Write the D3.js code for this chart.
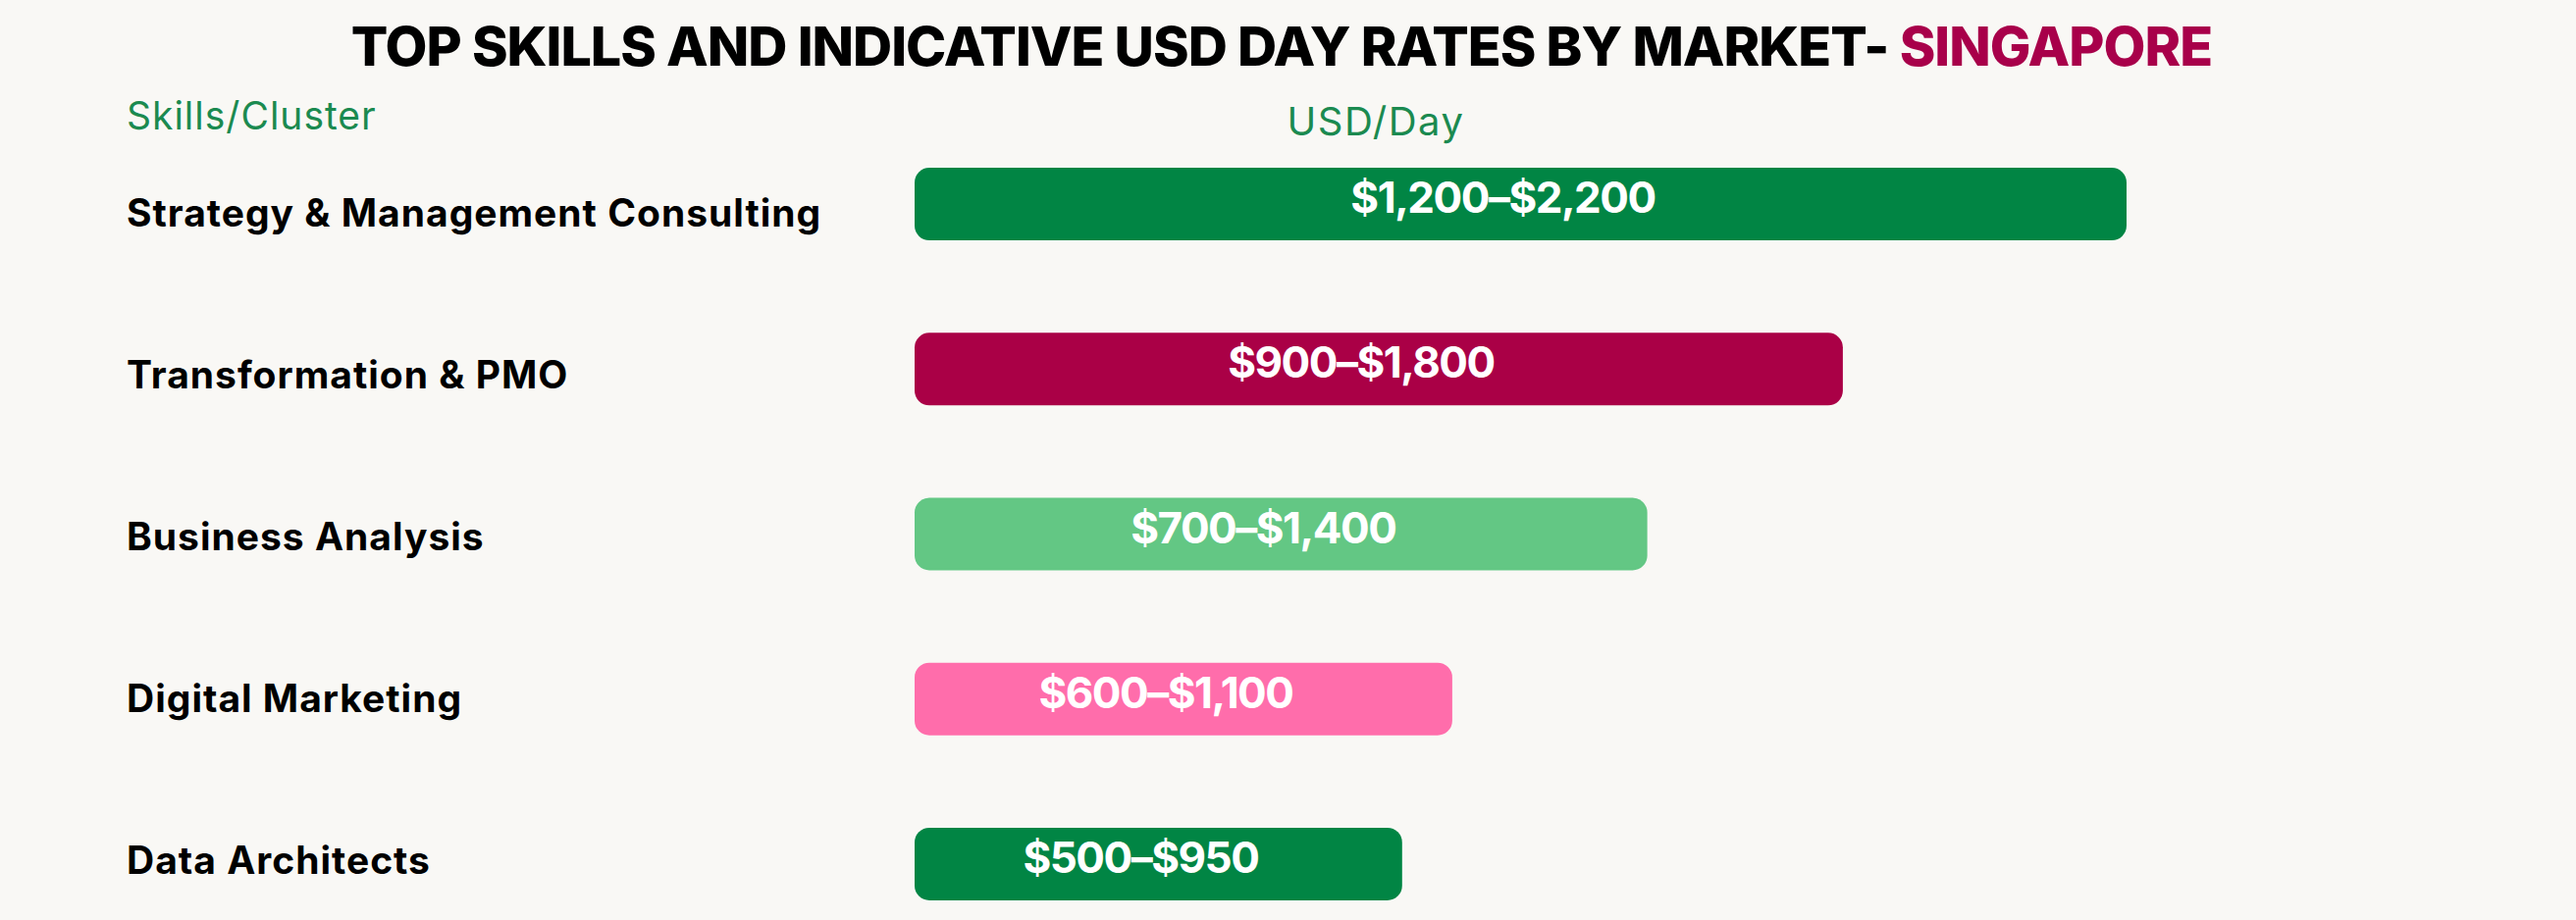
<!DOCTYPE html>
<html>
<head>
<meta charset="utf-8">
<script src="https://cdn.jsdelivr.net/npm/d3@7"></script>
<style>
  html, body { margin: 0; padding: 0; background: #f9f8f5; }
  svg { display: block; }
</style>
</head>
<body>
<div id="chart"></div>
<script>
// skills, top to bottom
var skills = ["Strategy & Management Consulting", "Transformation & PMO", "Business Analysis", "Digital Marketing", "Data Architects"];
// indicative day rate range, USD
var rateLow = [1200, 900, 700, 600, 500];
var rateHigh = [2200, 1800, 1400, 1100, 950];
// drawn bar length, in USD units of the top bar
var barLength = [2200, 1685, 1330, 976, 885];
var barColors = ["#018544", "#aa0046", "#63c784", "#ff6dab", "#018544"];

var width = 2625, height = 938;

var svg = d3.select("#chart")
    .append("svg")
    .attr("width", width)
    .attr("height", height);

svg.append("rect")
    .attr("width", width)
    .attr("height", height)
    .attr("fill", "#f9f8f5");

var data = skills.map(function(s, i) {
    return {skill: s, low: rateLow[i], high: rateHigh[i], len: barLength[i], color: barColors[i]};
});

var xScale = d3.scaleLinear()
    .domain([0, 2200])
    .range([932, 2167]);

var yScale = d3.scaleBand()
    .domain(skills)
    .range([171, 918])
    .paddingInner(0.56)
    .paddingOuter(0);

// the skill names sit on a slightly tighter rhythm than the bars
var labelScale = d3.scalePoint()
    .domain(skills)
    .range([216, 876]);

var money = d3.format("$,");

// title
var title = svg.append("text")
    .attr("x", 1306)
    .attr("y", 67)
    .attr("text-anchor", "middle")
    .style("font-family", "Inter, 'Noto Sans', sans-serif")
    .style("font-weight", 800)
    .style("font-size", "52px")
    .style("letter-spacing", "-1px");
title.append("tspan").attr("fill", "#000").text("TOP SKILLS AND INDICATIVE USD DAY RATES BY MARKET- ");
title.append("tspan").attr("fill", "#a8004a").text("SINGAPORE");

// fit the title to the width seen in the picture
var tw = title.node().getComputedTextLength();
title.style("font-size", (52 * 1893 / tw) + "px");

// column headers
svg.append("text")
    .attr("x", 129)
    .attr("y", 132)
    .attr("fill", "#1b8a50")
    .style("font-family", "Inter, sans-serif")
    .style("font-size", "39px")
    .style("letter-spacing", "1px")
    .text("Skills/Cluster");

svg.append("text")
    .attr("x", 1402)
    .attr("y", 138)
    .attr("text-anchor", "middle")
    .attr("fill", "#1b8a50")
    .style("font-family", "Inter, sans-serif")
    .style("font-size", "40px")
    .style("letter-spacing", "1.5px")
    .text("USD/Day");

// skill labels
svg.append("g")
    .selectAll("text")
    .data(data)
    .join("text")
    .attr("x", 129)
    .attr("y", d => labelScale(d.skill))
    .attr("dominant-baseline", "central")
    .attr("fill", "#000")
    .style("font-family", "Inter, sans-serif")
    .style("font-weight", 700)
    .style("font-size", "39px")
    .style("letter-spacing", "1px")
    .text(d => d.skill);

// bars
svg.append("g")
    .selectAll("rect")
    .data(data)
    .join("rect")
    .attr("x", xScale(0))
    .attr("y", d => yScale(d.skill))
    .attr("width", d => xScale(d.len) - xScale(0))
    .attr("height", yScale.bandwidth())
    .attr("rx", 15)
    .attr("fill", d => d.color);

// range labels inside bars
svg.append("g")
    .selectAll("text")
    .data(data)
    .join("text")
    .attr("x", d => (xScale(0) + xScale(d.len)) / 2 - 18)
    .attr("y", d => yScale(d.skill) + yScale.bandwidth() / 2 - 7)
    .attr("text-anchor", "middle")
    .attr("dominant-baseline", "central")
    .attr("fill", "#fff")
    .style("font-family", "Inter, sans-serif")
    .style("font-weight", 700)
    .style("font-size", "44px")
    .style("letter-spacing", "-1.5px")
    .text(d => money(d.low) + "\u2013" + money(d.high));
</script>
</body>
</html>
